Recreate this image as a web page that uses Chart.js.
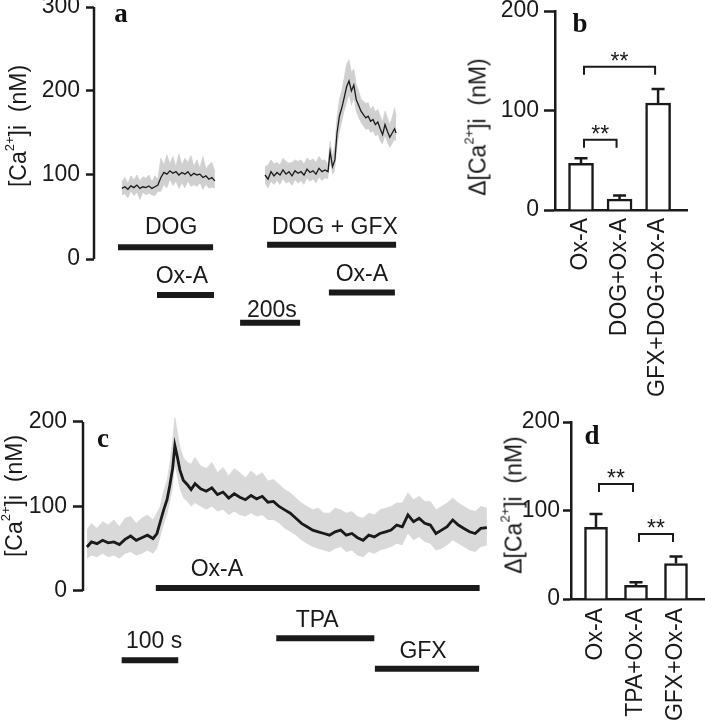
<!DOCTYPE html>
<html><head><meta charset="utf-8">
<script src="https://cdn.jsdelivr.net/npm/chart.js@4"></script>
<style>
body{margin:0;background:#fff;width:705px;height:720px;position:relative;overflow:hidden;font-family:"Liberation Sans",Arial,sans-serif;}
canvas{position:absolute;}
.t{position:absolute;white-space:pre;transform:translate(-50%,-50%) rotate(-90deg);font-size:23px;color:#1a1a1a;line-height:1;}
.t sup{font-size:13px;line-height:0;position:relative;top:-3px}
.L{position:absolute;transform:translateX(-50%);font:bold 27px "Liberation Serif","Times New Roman",serif;color:#111;line-height:1;}
</style></head><body>
<canvas id="ca" width="420" height="340" style="left:0;top:0"></canvas>
<canvas id="cb" width="285" height="410" style="left:420px;top:0"></canvas>
<canvas id="cc" width="500" height="350" style="left:0;top:370px"></canvas>
<canvas id="cd" width="225" height="350" style="left:480px;top:370px"></canvas>
<div class="t" style="left:18px;top:126px">[Ca<sup>2+</sup>]i  (nM)</div>
<div class="t" style="left:478px;top:127px">Δ[Ca<sup>2+</sup>]i  (nM)</div>
<div class="t" style="left:14px;top:496px">[Ca<sup>2+</sup>]i  (nM)</div>
<div class="t" style="left:514px;top:505px">Δ[Ca<sup>2+</sup>]i  (nM)</div>
<div class="L" style="left:121px;top:0px">a</div>
<div class="L" style="left:580px;top:10px">b</div>
<div class="L" style="left:103px;top:425px">c</div>
<div class="L" style="left:592px;top:422px">d</div>
<script>
// ---------- Panel a : traces ----------
const timeA1 = [93,103,113,123,133,143,153,163,173,183,193,203,213,223,233,243,253,263,273,283,293,303,313,323,333,343,353,363,373,383,393,403];
const meanA1 = [84,86,83,87,85,88,84,86,85,87,84,86,88,97,103,101,105,102,104,100,103,101,104,99,102,100,101,97,99,95,97,93];
const hiA1   = [92,97,90,99,94,100,93,98,96,100,92,99,95,120,112,124,113,122,110,125,112,120,115,123,110,118,108,122,107,112,115,104];
const loA1   = [76,77,72,80,75,79,70,79,76,78,76,75,80,80,88,84,94,87,92,83,90,84,92,86,88,86,90,82,88,84,85,84];

const timeA2 = [570,580,590,600,610,620,630,640,650,660,670,680,690,700,710,720,730,740,750,760,770,780,787,795,803,810,818,826,834,842,850,858,866,874,882,890,898,906,914,922,930,938,946,954,962,970,978,986,994,1002,1007];
const meanA2 = [100,95,104,99,103,100,106,101,104,99,105,102,104,100,107,103,105,101,108,104,106,104,128,110,118,150,170,180,192,205,212,200,207,190,183,176,172,168,170,164,166,160,163,155,148,160,152,145,150,155,150];
const hiA2   = [110,112,118,113,115,112,120,116,114,115,118,116,118,113,120,117,119,115,122,117,118,112,140,122,135,168,190,200,215,232,237,222,226,208,200,190,188,185,186,178,182,175,178,170,163,176,168,160,168,180,170];
const loA2   = [90,84,92,88,93,88,95,90,92,87,94,90,93,88,96,92,95,90,97,93,96,95,115,100,105,130,150,162,175,185,195,182,190,175,168,162,158,154,155,150,152,146,148,140,136,146,138,132,137,142,140];

const treatA      = ['DOG','Ox-A','DOG + GFX','Ox-A','200s'];
const treatStartA = [80,210,577,783,487];
const treatEndA   = [397,400,1007,1003,687];
const treatLaneA  = [14,-43,17,-40,-76];
const treatTextA  = [37,-21,37,-19,-61];
const treatTextAtA= [257,293,803,893,593];
const yTicksA = [0,100,200,300];

// ---------- Panel b : bars ----------
const catB = ['Ox-A','DOG+Ox-A','GFX+DOG+Ox-A'];
const valB = [47,11,107.5];
const errB = [5,3.5,14];
const sigFromB = [0,0], sigToB = [1,2], sigLevelB = [70.5,144];
const yTicksB = [0,100,200];

// ---------- Panel c : trace ----------
const timeC = [7,15,25,35,45,55,65,75,85,95,105,115,125,132,138,144,150,155,160,164,168,173,179,186,193,200,210,220,230,240,250,260,270,280,290,300,310,320,330,340,350,360,370,380,390,400,410,420,430,440,450,460,470,480,490,500,510,520,530,540,550,560,570,580,590,600,610,620,630,640,650,660,670,680,690,700,710,721];
const meanC = [52,58,56,60,57,58,55,61,65,60,63,66,62,68,82,96,108,125,145,172,160,143,131,126,120,127,121,118,122,114,117,110,115,111,108,113,109,112,105,106,100,96,92,86,80,76,72,70,68,66,70,72,66,68,63,60,66,64,68,70,72,78,76,90,82,86,80,78,68,72,76,84,78,74,70,68,74,75];
const hiC   = [72,80,74,82,78,84,76,86,88,80,86,90,84,92,100,118,130,150,178,205,190,170,158,152,150,158,148,145,152,140,146,136,145,140,134,142,136,140,130,132,126,120,116,110,104,100,96,98,92,92,98,96,92,94,88,86,92,90,96,98,100,104,104,116,108,112,106,106,96,100,104,110,104,100,96,94,100,98];
const loC   = [38,42,40,44,40,42,38,44,46,42,44,48,44,50,64,78,90,104,120,148,136,120,110,106,100,104,100,96,100,94,96,90,94,90,88,92,88,90,84,84,80,74,70,66,60,56,52,50,48,46,50,52,46,48,42,40,46,44,48,50,52,56,54,68,60,64,58,56,48,50,54,60,56,52,48,46,52,54];

const treatC      = ['Ox-A','TPA','GFX','100 s'];
const treatStartC = [130,345,521,69];
const treatEndC   = [708,520,707,170];
const treatLaneC  = [3.5,-56,-92,-82];
const treatTextC  = [25,-35.5,-72,-60];
const treatTextAtC= [239,418,607,127];
const yTicksC = [0,100,200];

// ---------- Panel d : bars ----------
const catD = ['Ox-A','TPA+Ox-A','GFX+Ox-A'];
const valD = [81,15.5,40];
const errD = [15,3.5,8];
const sigFromD = [0,1], sigToD = [1,2], sigLevelD = [130,73.5];
const yTicksD = [0,100,200];

// ---------- drawing ----------
const INK = '#1a1a1a';
const FONT = '"Liberation Sans", Arial, sans-serif';
Chart.defaults.font.family = FONT;
Chart.defaults.font.size = 23;
Chart.defaults.color = INK;

const xy = (t, v) => t.map((x, i) => ({x, y: v[i]}));

function traceSets(t, m, h, l, gray, w) {
  return [
    {data: xy(t, l), borderWidth: 0, borderColor: gray, pointRadius: 0, fill: false, order: 3},
    {data: xy(t, h), borderWidth: 0.8, borderColor: gray, backgroundColor: gray, pointRadius: 0, fill: '-1', order: 2},
    {data: xy(t, m), borderWidth: w, borderColor: INK, pointRadius: 0, fill: false, order: 0}
  ];
}
function laneSets(s, e, lane) {
  return s.map((a, i) => ({data: [{x: a, y: lane[i]}, {x: e[i], y: lane[i]}], borderWidth: 6,
    borderColor: INK, pointRadius: 0, fill: false, borderCapStyle: 'butt', order: 0}));
}
function yScale(min, max, ticks, width, tl, pad, border) {
  return {min, max,
    afterBuildTicks: s => { s.ticks = ticks.map(v => ({value: v})); },
    border: {display: border, color: INK, width: 2.5},
    grid: {drawOnChartArea: false, tickLength: tl, tickWidth: 2.5, tickColor: INK},
    ticks: {padding: pad, color: INK},
    afterFit: s => { s.width = width; s.paddingTop = 0; s.paddingBottom = 0; }};
}
function tracePlugin(topVal, names, at, lanes) {
  return {id: 'traceAxis', afterDraw(c) {
    const {ctx, chartArea: ca, scales: {x, y}} = c;
    ctx.save();
    ctx.strokeStyle = INK; ctx.lineWidth = 2.5;
    ctx.beginPath(); ctx.moveTo(ca.left, y.getPixelForValue(0)); ctx.lineTo(ca.left, y.getPixelForValue(topVal)); ctx.stroke();
    ctx.fillStyle = INK; ctx.font = '23px ' + FONT; ctx.textAlign = 'center'; ctx.textBaseline = 'middle';
    names.forEach((n, i) => ctx.fillText(n, x.getPixelForValue(at[i]), y.getPixelForValue(lanes[i])));
    ctx.restore();
  }};
}
function barPlugin(vals, errs, sFrom, sTo, sLvl) {
  return {id: 'barExtras', afterDatasetsDraw(c) {
    const {ctx, scales: {x, y}} = c;
    ctx.save(); ctx.strokeStyle = INK; ctx.fillStyle = INK; ctx.lineWidth = 2.5;
    vals.forEach((v, i) => {
      const px = x.getPixelForValue(i), y0 = y.getPixelForValue(v), y1 = y.getPixelForValue(v + errs[i]);
      ctx.beginPath(); ctx.moveTo(px, y0); ctx.lineTo(px, y1); ctx.moveTo(px - 6.5, y1); ctx.lineTo(px + 6.5, y1); ctx.stroke();
    });
    ctx.lineWidth = 2;
    ctx.font = '23px ' + FONT; ctx.textAlign = 'center'; ctx.textBaseline = 'alphabetic';
    sFrom.forEach((a, k) => {
      const xa = x.getPixelForValue(a) + 3, xb = x.getPixelForValue(sTo[k]) - 3, yl = y.getPixelForValue(sLvl[k]);
      ctx.beginPath(); ctx.moveTo(xa, yl + 8); ctx.lineTo(xa, yl); ctx.lineTo(xb, yl); ctx.lineTo(xb, yl + 8); ctx.stroke();
      ctx.fillText('**', (xa + xb) / 2, yl + 2);
    });
    ctx.restore();
  }};
}
const common = {animation: false, responsive: false, devicePixelRatio: 1, events: [],
  plugins: {legend: {display: false}, tooltip: {enabled: false}}};

// Panel a
new Chart(document.getElementById('ca'), {
  type: 'line',
  data: {datasets: [
    ...traceSets(timeA1, meanA1, hiA1, loA1, '#d0d0d0', 1.3),
    ...traceSets(timeA2, meanA2, hiA2, loA2, '#d0d0d0', 1.3),
    ...laneSets(treatStartA, treatEndA, treatLaneA)]},
  options: {...common, layout: {padding: {top: 7, bottom: 9.6, left: 0, right: 11}},
    scales: {x: {type: 'linear', display: false, min: 0, max: 1050},
             y: yScale(-85, 300, yTicksA, 94, 8, 6, false)}},
  plugins: [tracePlugin(300, treatA, treatTextAtA, treatTextA)]
});

// Panel c
new Chart(document.getElementById('cc'), {
  type: 'line',
  data: {datasets: [
    ...traceSets(timeC, meanC, hiC, loC, '#d9d9d9', 2.8),
    ...laneSets(treatStartC, treatEndC, treatLaneC)]},
  options: {...common, layout: {padding: {top: 43.5, bottom: 40.3, left: 0, right: 3}},
    scales: {x: {type: 'linear', display: false, min: 0, max: 739},
             y: yScale(-105, 210, yTicksC, 83, 10, 6, false)}},
  plugins: [tracePlugin(200, treatC, treatTextAtC, treatTextC)]
});

function barChart(id, cats, vals, errs, sFrom, sTo, sLvl, ticks, opts) {
  new Chart(document.getElementById(id), {
    type: 'bar',
    data: {datasets: [{data: xy([0, 1, 2], vals), backgroundColor: '#fff', borderColor: INK,
      borderWidth: 2.5, barThickness: opts.bw}]},
    options: {...common, layout: {padding: {top: opts.top, bottom: 0, left: 0, right: opts.right}},
      scales: {
        x: {type: 'linear', min: opts.xmin, max: opts.xmax, offset: false,
            afterBuildTicks: s => { s.ticks = [0, 1, 2].map(v => ({value: v})); },
            grid: {display: false, drawTicks: false, offset: false},
            border: {display: true, color: INK, width: 2.5},
            ticks: {autoSkip: false, minRotation: 90, maxRotation: 90, padding: opts.lp, color: INK,
                    callback: v => cats[v]},
            afterFit: s => { s.height = opts.xh; s.paddingLeft = 0; s.paddingRight = 0; }},
        y: yScale(0, 200, ticks, opts.yw, opts.tl, opts.tp, true)}},
    plugins: [barPlugin(vals, errs, sFrom, sTo, sLvl)]
  });
}
barChart('cb', catB, valB, errB, sigFromB, sigToB, sigLevelB, yTicksB,
  {bw: 25, top: 11, right: 18, xmin: -0.675, xmax: 2.75, lp: 8, xh: 200, yw: 135, tl: 11, tp: 5});
barChart('cd', catD, valD, errD, sigFromD, sigToD, sigLevelD, yTicksD,
  {bw: 23, top: 52, right: 0, xmin: -0.625, xmax: 2.725, lp: 9, xh: 121, yw: 91, tl: 8, tp: 3});
</script>
</body></html>
